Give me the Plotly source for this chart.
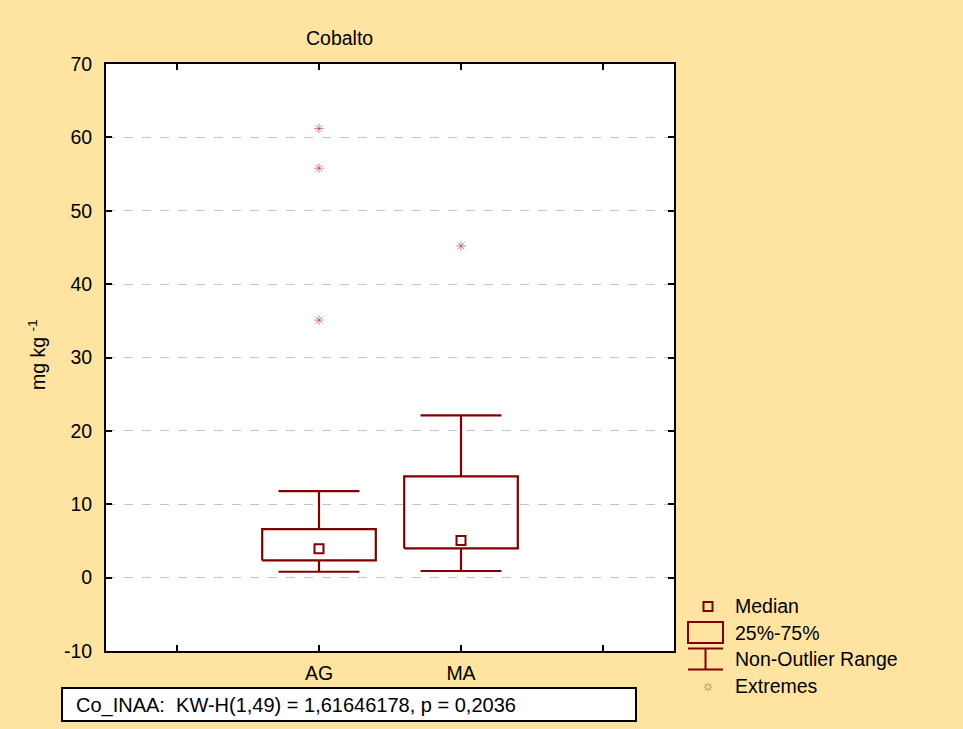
import plotly.graph_objects as go

# Cobalt concentration by group (mg/kg)
groups = ["AG", "MA"]
q1 = [2.35, 4.0]
median = [3.95, 5.05]
q3 = [6.6, 13.8]
whisker_low = [0.8, 0.9]
whisker_high = [11.8, 22.1]
extremes = {"AG": [61.2, 55.8, 35.1], "MA": [45.2]}
y_ticks = list(range(-10, 71, 10))
y_tick_text = [str(v) for v in y_ticks]
stats_text = "Co_INAA:  KW-H(1,49) = 1,61646178, p = 0,2036"

DARK_RED = "#800000"
STAR = "rgba(175,50,50,0.6)"
BG = "#FFE3A0"
FONT = "Liberation Sans, Arial, sans-serif"
FS = 19.5

box_half = 0.4
cap_half = 0.285

fig = go.Figure()

for i, g in enumerate(groups):
    p = i + 1
    # box (25%-75%)
    fig.add_trace(go.Scatter(
        x=[p - box_half, p + box_half, p + box_half, p - box_half, p - box_half],
        y=[q1[i], q1[i], q3[i], q3[i], q1[i]],
        mode="lines", line=dict(color=DARK_RED, width=2.2),
        hoverinfo="skip", showlegend=False))
    # whiskers and caps (non-outlier range)
    fig.add_trace(go.Scatter(
        x=[p, p, None, p, p, None,
           p - cap_half, p + cap_half, None, p - cap_half, p + cap_half],
        y=[q3[i], whisker_high[i], None, q1[i], whisker_low[i], None,
           whisker_high[i], whisker_high[i], None, whisker_low[i], whisker_low[i]],
        mode="lines", line=dict(color=DARK_RED, width=2.2),
        hoverinfo="skip", showlegend=False))
    # median
    fig.add_trace(go.Scatter(
        x=[p], y=[median[i]], mode="markers",
        marker=dict(symbol="square-open", size=9, color=DARK_RED,
                    line=dict(width=2, color=DARK_RED)),
        showlegend=False))
    # extremes
    ex = extremes[g]
    fig.add_trace(go.Scatter(
        x=[p] * len(ex), y=ex, mode="markers",
        marker=dict(symbol="asterisk-open", size=8, color=STAR,
                    line=dict(width=1, color=STAR)),
        showlegend=False))

# plot area in pixels: x 106..674, y 64..651
PW, PH = 568.0, 587.0
X0, Y1 = 106.0, 651.0


def px(x):
    return (x - X0) / PW


def py(y):
    return (Y1 - y) / PH


shapes = []
annotations = []

# statistics box under the plot
shapes.append(dict(type="rect", xref="paper", yref="paper",
                   x0=px(62), x1=px(636), y0=py(721), y1=py(688),
                   line=dict(color="black", width=2), fillcolor="white", layer="above"))
annotations.append(dict(x=px(74), y=py(705), xref="paper", yref="paper",
                        text=stats_text, showarrow=False, xanchor="left", yanchor="middle",
                        font=dict(family=FONT, size=20, color="black")))

# legend
leg = dict(color=DARK_RED, width=2)
shapes.append(dict(type="rect", xref="paper", yref="paper", xsizemode="pixel", ysizemode="pixel",
                   xanchor=px(708), yanchor=py(606.5), x0=-4.5, x1=4.5, y0=-4.5, y1=4.5,
                   line=leg))
shapes.append(dict(type="rect", xref="paper", yref="paper",
                   x0=px(688), x1=px(723), y0=py(643), y1=py(622), line=leg))
shapes.append(dict(type="line", xref="paper", yref="paper",
                   x0=px(688), x1=px(723), y0=py(648.5), y1=py(648.5), line=leg))
shapes.append(dict(type="line", xref="paper", yref="paper",
                   x0=px(688), x1=px(723), y0=py(669.5), y1=py(669.5), line=leg))
shapes.append(dict(type="line", xref="paper", yref="paper",
                   x0=px(705.5), x1=px(705.5), y0=py(648.5), y1=py(669.5), line=leg))
shapes.append(dict(type="path", xref="paper", yref="paper", xsizemode="pixel", ysizemode="pixel",
                   xanchor=px(708), yanchor=py(687),
                   path="M-4,0 L-1.5,0 M1.5,0 L4,0 M0,-4 L0,-1.5 M0,1.5 L0,4 "
                        "M-3,-3 L-1,-1 M1,1 L3,3 M-3,3 L-1,1 M1,-1 L3,-3",
                   line=dict(color=STAR, width=1)))

for label, yy in [("Median", 606), ("25%-75%", 633), ("Non-Outlier Range", 659),
                  ("Extremes", 686)]:
    annotations.append(dict(x=px(733), y=py(yy), xref="paper", yref="paper", text=label,
                            showarrow=False, xanchor="left", yanchor="middle",
                            font=dict(family=FONT, size=FS, color="black")))

# title and y-axis label
annotations.append(dict(x=px(339), y=py(38), xref="paper", yref="paper", text="Cobalto",
                        showarrow=False, xanchor="center", yanchor="middle",
                        font=dict(family=FONT, size=FS, color="black")))
annotations.append(dict(x=px(37), y=py(355), xref="paper", yref="paper",
                        text="mg kg <sup>-1</sup>", textangle=-90, showarrow=False,
                        xanchor="center", yanchor="middle",
                        font=dict(family=FONT, size=FS, color="black")))

fig.update_layout(
    width=963, height=729,
    margin=dict(l=106, r=289, t=64, b=78),
    paper_bgcolor=BG, plot_bgcolor="white",
    font=dict(family=FONT, size=FS, color="black"),
    shapes=shapes, annotations=annotations,
    showlegend=False,
    xaxis=dict(range=[-0.5, 3.5], tickvals=[1, 2], ticktext=groups,
               ticks="inside", ticklen=6, tickwidth=1.5, tickcolor="black",
               minor=dict(tickvals=[0, 3], ticks="inside", ticklen=6, tickwidth=1.5,
                          tickcolor="black", showgrid=False),
               showline=True, linecolor="black", linewidth=2, mirror="ticks",
               showgrid=False, zeroline=False, ticklabelstandoff=4),
    yaxis=dict(range=[-10, 70], tickvals=y_ticks, ticktext=y_tick_text,
               ticks="inside", ticklen=6, tickwidth=1.5, tickcolor="black",
               showline=True, linecolor="black", linewidth=2, mirror="ticks",
               showgrid=True, gridcolor="#c4c4c4", griddash="dash", gridwidth=1,
               zeroline=False, ticklabelstandoff=8),
)

fig.write_html("out.html")
